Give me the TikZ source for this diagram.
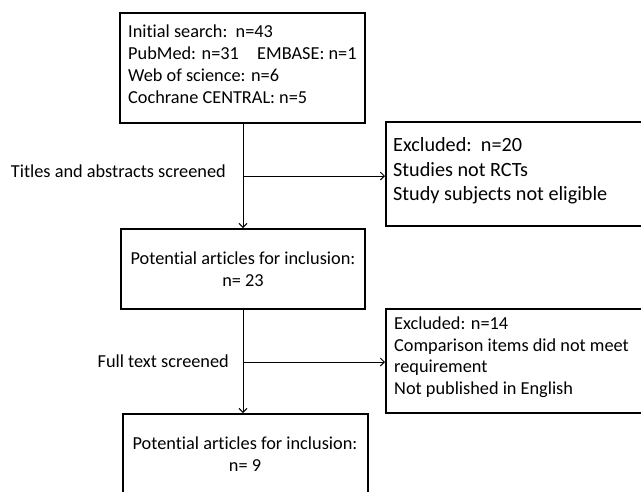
\documentclass[tikz,border=0pt]{standalone}
\usepackage{fontspec}
\setmainfont{Carlito}[Ligatures=NoCommon]
\usetikzlibrary{arrows.meta,calc}
\begin{document}
\begin{tikzpicture}[x=1pt,y=-1pt,
  box/.style={draw=black,line width=2pt,rectangle,inner sep=0pt},
  txt/.style={inner sep=0pt,anchor=base west,font=\fontsize{18.3}{22.2}\selectfont},
  lbl/.style={inner sep=0pt,anchor=base east,font=\fontsize{18.3}{22}\selectfont},
  ctxt/.style={inner sep=0pt,align=center,font=\fontsize{18.3}{21.5}\selectfont},
  bigtxt/.style={inner sep=0pt,anchor=base west,font=\fontsize{20.2}{24.6}\selectfont},
  conn/.style={line width=0.9pt,-{Straight Barb[length=4pt,width=8pt]}}]
\useasboundingbox (0,0) rectangle (641,491);
\clip (0,0) rectangle (641,491);
% boxes
\node[box,minimum width=245,minimum height=110] (b1) at (242.5,68) {};
\node[txt] (t1) at (128,37) {\vtop{\hbox{Initial search:\ \ n=43}\hbox{PubMed: n=31\hspace{1em}EMBASE: n=1}\hbox{Web of science: n=6}\hbox{Cochrane CENTRAL: n=5}}};
\node[box,minimum width=244,minimum height=80,ctxt] (b2) at (243,269) {Potential articles for inclusion:\\n= 23};
\node[box,minimum width=245,minimum height=80,ctxt] (b3) at (245,454) {Potential articles for inclusion:\\n= 9};
\node[box,minimum width=262,minimum height=104] (e1) at (517,174) {};
\node[bigtxt] (te1) at (393,151.5) {\vtop{\hbox{Excluded:\ \ n=20}\hbox{Studies not RCTs}\hbox{Study subjects not eligible}}};
\node[box,minimum width=262,minimum height=104] (e2) at (517,361) {};
\node[txt,font=\fontsize{18.3}{21.7}\selectfont] (te2) at (394,329.5) {\vtop{\hbox{Excluded: n=14}\hbox{Comparison items did not meet}\hbox{requirement}\hbox{Not published in English}}};
% labels
\node[lbl] (l1) at (226,177) {Titles and abstracts screened};
\node[lbl] (l2) at (229,367.5) {Full text screened};
% connectors
\coordinate (m1) at (243,176);
\coordinate (m2) at (243,362);
\draw[conn] (b1.south -| m1) -- (b2.north -| m1);
\draw[conn] (m1) -- (m1 -| e1.west);
\draw[conn] (b2.south -| m2) -- (b3.north -| m2);
\draw[conn] (m2) -- (m2 -| e2.west);
\end{tikzpicture}
\end{document}
